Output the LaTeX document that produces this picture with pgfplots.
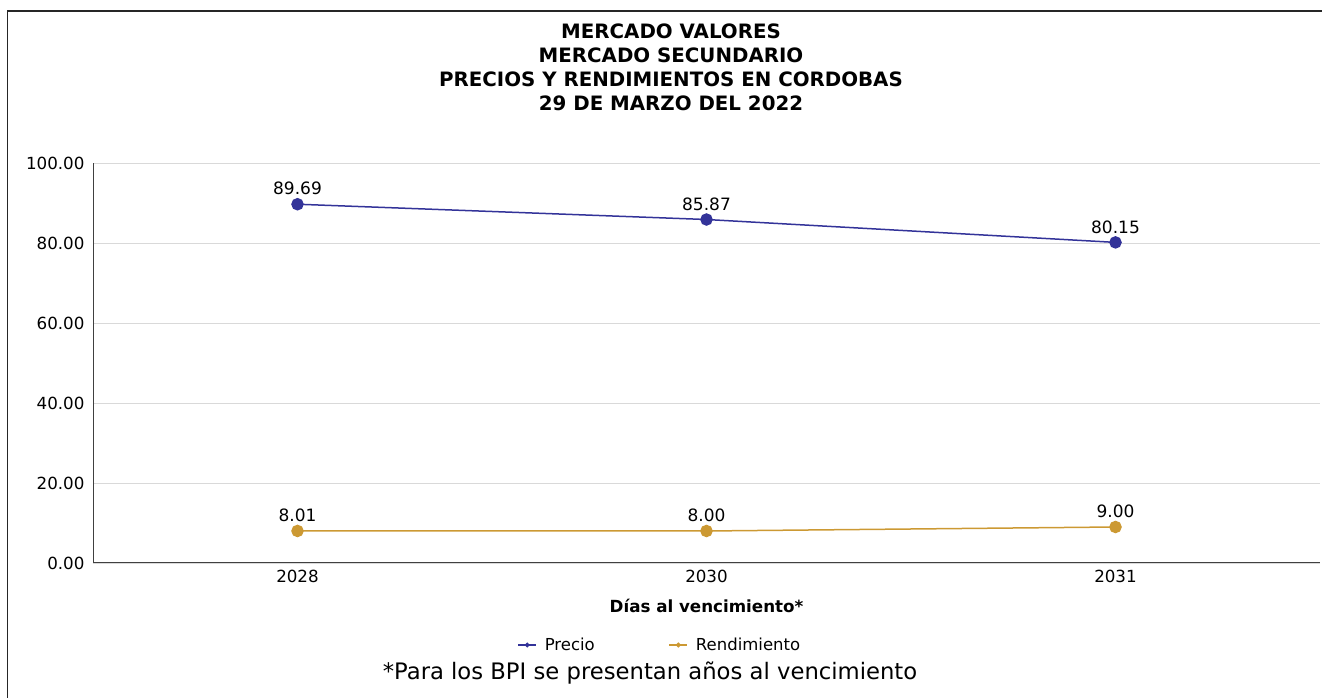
\documentclass[border=0pt]{standalone}
\usepackage{pgfplots}
\pgfplotsset{compat=1.18}
\usepackage{fontspec}
\setmainfont{DejaVu Sans}
\definecolor{precio}{RGB}{51,51,153}
\definecolor{rend}{RGB}{204,153,51}
\definecolor{gridc}{RGB}{217,217,217}
\definecolor{axc}{RGB}{64,64,64}
\begin{document}
\begin{tikzpicture}[x=1pt,y=1pt]
\useasboundingbox (0,0) rectangle (1322,698);
\draw[line width=1.2pt,black!85] (7.5,-2) -- (7.5,687) -- (1322,687);
\begin{axis}[
  at={(93pt,135pt)}, anchor=south west,
  scale only axis, width=1227pt, height=400pt,
  xmin=-0.5, xmax=2.5, ymin=0, ymax=100,
  xtick={0,1,2}, xticklabels={2028,2030,2031},
  ytick={0,20,40,60,80,100},
  axis lines=left, axis line style={-, axc, line width=1pt},
  ymajorgrids, grid style={gridc, line width=0.8pt},
  major tick length=0pt,
  /pgf/number format/assume math mode=true,
  yticklabel style={/pgf/number format/.cd, fixed, fixed zerofill, precision=2, /tikz/.cd, font=\fontsize{16.7}{19}\selectfont, xshift=-5pt},
  xticklabel style={font=\fontsize{16.7}{19}\selectfont, yshift=-4pt},
  xlabel={\textbf{Días al vencimiento*}},
  xlabel style={font=\fontsize{16.7}{19}\selectfont, at={(axis description cs:0.5,0)}, anchor=north, yshift=-33pt},
  nodes near coords,
  nodes near coords style={/pgf/number format/.cd, fixed, fixed zerofill, precision=2, /tikz/.cd, font=\fontsize{17}{19}\selectfont, anchor=south, yshift=5pt, text=black},
  legend columns=2,
  legend style={draw=none, fill=none, at={(0.462,-0.205)}, anchor=center, font=\fontsize{16.5}{18}\selectfont, /tikz/every odd column/.append style={column sep=6pt}, /tikz/every even column/.append style={column sep=72pt}},
  legend image code/.code={\draw[mark repeat=2,mark phase=2,#1,line width=1.2pt,mark size=1.8pt] plot coordinates {(0pt,0pt) (9pt,0pt) (18pt,0pt)};},
]
\addplot[precio, line width=1.5pt, mark=*, mark size=5.5pt] coordinates {(0,89.69) (1,85.87) (2,80.15)};
\addlegendentry{Precio}
\addplot[rend, line width=1.5pt, mark=*, mark size=5.5pt] coordinates {(0,8.01) (1,8.00) (2,9.00)};
\addlegendentry{Rendimiento}
\end{axis}
\node[font=\bfseries\fontsize{19.8}{24.2}\selectfont, align=center, anchor=north] at (671,678) {MERCADO VALORES\\MERCADO SECUNDARIO\\PRECIOS Y RENDIMIENTOS EN CORDOBAS\\29 DE MARZO DEL 2022};
\node[font=\fontsize{22.7}{25}\selectfont] at (650,25) {*Para los BPI se presentan años al vencimiento};
\end{tikzpicture}
\end{document}
